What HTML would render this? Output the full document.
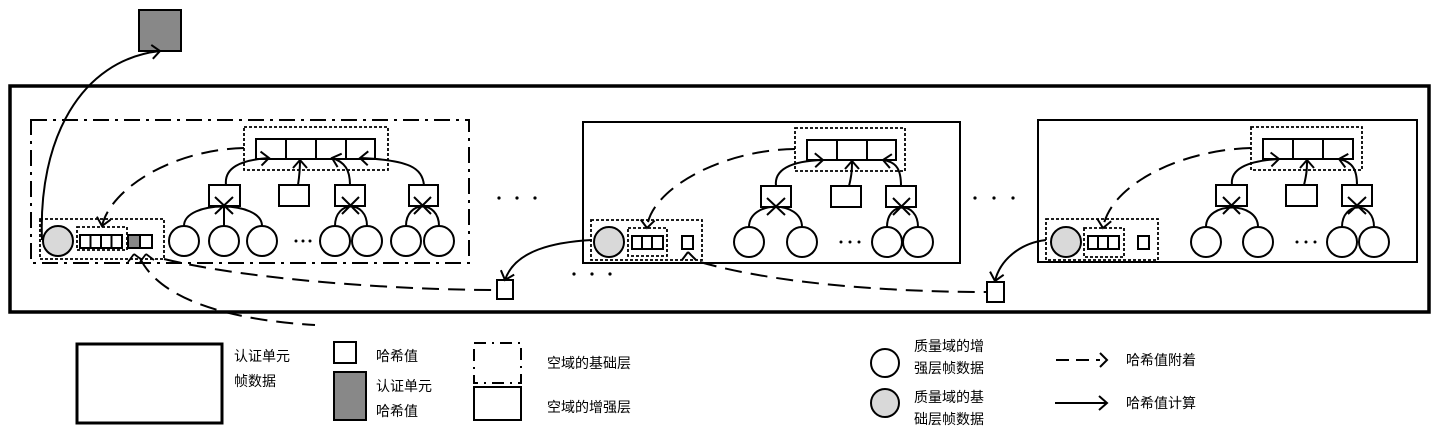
<!DOCTYPE html>
<html><head><meta charset="utf-8"><style>
html,body{margin:0;padding:0;background:#fff;}
svg{display:block;}
text{font-family:"Liberation Sans","Noto Sans CJK SC",sans-serif;font-size:14px;fill:#000;}
</style></head><body>
<svg width="1439" height="435" viewBox="0 0 1439 435" xmlns="http://www.w3.org/2000/svg">
<defs>
<marker id="a" markerUnits="userSpaceOnUse" markerWidth="16" markerHeight="16" refX="9" refY="7" orient="auto" viewBox="0 0 16 14">
<path d="M1,0 L9,7 L1,14" fill="none" stroke="#000" stroke-width="2"/>
</marker>
</defs>
<g fill="none" stroke="#000" stroke-width="2">
<rect x="139" y="10" width="42" height="41" fill="#888"/>
<rect x="10" y="86" width="1419" height="226" stroke-width="3.5"/>
<rect x="31" y="120" width="438" height="143" stroke-dasharray="16,6,3,6"/>
<rect x="583" y="122" width="377" height="141"/>
<rect x="1038" y="120" width="379" height="142"/>

<g stroke-dasharray="3,2" stroke-width="1.8">
<rect x="244" y="127" width="144" height="43"/>
<rect x="40" y="219" width="124" height="40"/>
<rect x="77" y="227" width="50" height="23"/>
<rect x="795" y="128" width="110" height="43"/>
<rect x="591" y="220" width="111" height="40"/>
<rect x="628" y="228" width="39" height="28"/>
<rect x="1251" y="127" width="111" height="43"/>
<rect x="1046" y="219" width="112" height="41"/>
<rect x="1084" y="228" width="40" height="29"/>
</g>

<rect x="256" y="139" width="119" height="20"/><path d="M286,139V159M316,139V159M346,139V159"/>
<rect x="807" y="140" width="89" height="20"/><path d="M837,140V160M867,140V160"/>
<rect x="1263" y="139" width="90" height="20"/><path d="M1293,139V159M1323,139V159"/>

<rect x="80" y="235" width="42" height="13"/><path d="M90.5,235V248M101,235V248M111.5,235V248"/>
<rect x="128" y="235" width="12" height="13" fill="#888"/><rect x="140" y="235" width="12" height="13"/>
<rect x="632" y="236" width="31" height="13"/><path d="M642,236V249M652,236V249"/>
<rect x="682" y="236" width="11" height="13"/>
<rect x="1088" y="236" width="31" height="13"/><path d="M1098,236V249M1108,236V249"/>
<rect x="1138" y="236" width="11" height="13"/>

<circle cx="58" cy="241" r="15" fill="#d9d9d9"/>
<circle cx="609" cy="242" r="15" fill="#d9d9d9"/>
<circle cx="1066" cy="242" r="15" fill="#d9d9d9"/>

<rect x="209" y="185" width="31" height="21"/><rect x="279" y="185" width="30" height="21"/>
<rect x="335" y="185" width="30" height="21"/><rect x="409" y="185" width="29" height="21"/>
<rect x="761" y="186" width="30" height="21"/><rect x="831" y="186" width="30" height="21"/><rect x="886" y="186" width="30" height="21"/>
<rect x="1216" y="185" width="31" height="21"/><rect x="1286" y="185" width="31" height="21"/><rect x="1342" y="185" width="30" height="21"/>

<g fill="#fff">
<circle cx="184" cy="241" r="15"/><circle cx="224" cy="241" r="15"/><circle cx="262" cy="241" r="15"/>
<circle cx="335" cy="241" r="15"/><circle cx="367" cy="241" r="15"/><circle cx="406" cy="241" r="15"/><circle cx="439" cy="241" r="15"/>
<circle cx="749" cy="242" r="15"/><circle cx="802" cy="242" r="15"/><circle cx="887" cy="242" r="15"/><circle cx="918" cy="242" r="15"/>
<circle cx="1206" cy="242" r="15"/><circle cx="1258" cy="242" r="15"/><circle cx="1342" cy="242" r="15"/><circle cx="1374" cy="242" r="15"/>
</g>

<path d="M184,226 C184,200 262,200 262,226 M224,226 V204 M215,197 L233,214 M233,197 L215,214"/>
<path d="M335,226 C335,200 367,200 367,226 M342,197 L359,214 M359,197 L342,214"/>
<path d="M406,226 C406,200 439,200 439,226 M414,197 L431,214 M431,197 L414,214"/>
<path d="M749,227 C749,200 802,200 802,227 M767,198 L785,215 M785,198 L767,215"/>
<path d="M887,227 C887,201 918,201 918,227 M893,198 L910,215 M910,198 L893,215"/>
<path d="M1206,227 C1206,201 1258,201 1258,227 M1223,197 L1240,214 M1240,197 L1223,214"/>
<path d="M1342,227 C1342,201 1374,201 1374,227 M1348,197 L1366,214 M1366,197 L1348,214"/>

<g marker-end="url(#a)">
<path d="M226,185 C224,168 240,160 269,158"/>
<path d="M298,185 C300,172 300,166 300,160"/>
<path d="M350,185 C350,170 345,162 332,158"/>
<path d="M424,185 C422,168 410,160 360,158"/>
<path d="M776,186 C774,170 790,161 823,160"/>
<path d="M849,186 C852,174 852,168 852,161"/>
<path d="M901,186 C901,170 897,162 883,160"/>
<path d="M1232,185 C1230,170 1245,161 1279,159"/>
<path d="M1304,185 C1307,173 1307,167 1307,160"/>
<path d="M1357,185 C1357,170 1353,162 1339,159"/>
</g>

<g marker-end="url(#a)">
<path d="M42,240 C38,140 80,60 160,51"/>
<path d="M592,240 C555,242 515,250 505,280"/>
<path d="M1046,240 C1020,243 1000,260 995,281"/>
</g>
<path d="M134,254 L128,262 M134,254 L142,260 M146,254 L140,262 M146,254 L154,260" stroke-width="1.8"/>
<path d="M688,252 L682,260 M688,252 L696,260" stroke-width="2"/>

<rect x="497" y="280" width="16" height="19"/>
<rect x="987" y="282" width="17" height="20"/>

<g stroke-dasharray="17,9">
<path d="M244,148 C170,150 110,190 102,226" marker-end="url(#a)"/>
<path d="M795,149 C720,150 650,190 647,228" marker-end="url(#a)"/>
<path d="M1251,148 C1180,150 1110,185 1103,228" marker-end="url(#a)"/>
<path d="M164,259 C250,280 400,290 497,290"/>
<path d="M700,262 C780,285 900,292 987,292"/>
<path d="M140,258 C160,300 230,320 315,325"/>
</g>

<rect x="77" y="344" width="145" height="79" stroke-width="3"/>
<rect x="334" y="342" width="22" height="21"/>
<rect x="334" y="372" width="32" height="48" fill="#888"/>
<rect x="474" y="343" width="47" height="40" stroke-dasharray="12,6,2,6"/>
<rect x="474" y="387" width="47" height="33"/>
<circle cx="885" cy="363" r="14"/>
<circle cx="885" cy="403" r="14" fill="#d9d9d9"/>
<path d="M1056,360 H1100" stroke-dasharray="13,7"/>
<path d="M1100,353 L1107,360 L1100,367"/>
<path d="M1055,403 H1106"/>
<path d="M1099,396 L1107,403 L1099,410"/>
</g>

<g fill="#000">
<circle cx="296" cy="241" r="1.5"/><circle cx="303" cy="241" r="1.5"/><circle cx="310" cy="241" r="1.5"/>
<circle cx="841" cy="242" r="1.5"/><circle cx="850" cy="242" r="1.5"/><circle cx="859" cy="242" r="1.5"/>
<circle cx="1297" cy="242" r="1.5"/><circle cx="1306" cy="242" r="1.5"/><circle cx="1315" cy="242" r="1.5"/>
<circle cx="499" cy="198" r="1.6"/><circle cx="517" cy="198" r="1.6"/><circle cx="535" cy="198" r="1.6"/>
<circle cx="975" cy="198" r="1.6"/><circle cx="994" cy="198" r="1.6"/><circle cx="1013" cy="198" r="1.6"/>
<circle cx="574" cy="274" r="1.6"/><circle cx="592" cy="274" r="1.6"/><circle cx="610" cy="274" r="1.6"/>
</g>

<text x="234" y="361">认证单元</text>
<text x="234" y="386">帧数据</text>
<text x="376" y="361">哈希值</text>
<text x="376" y="391">认证单元</text>
<text x="376" y="416">哈希值</text>
<text x="547" y="368">空域的基础层</text>
<text x="547" y="412">空域的增强层</text>
<text x="914" y="351">质量域的增</text>
<text x="914" y="373">强层帧数据</text>
<text x="914" y="402">质量域的基</text>
<text x="914" y="424">础层帧数据</text>
<text x="1126" y="365">哈希值附着</text>
<text x="1126" y="408">哈希值计算</text>
</svg>
</body></html>
